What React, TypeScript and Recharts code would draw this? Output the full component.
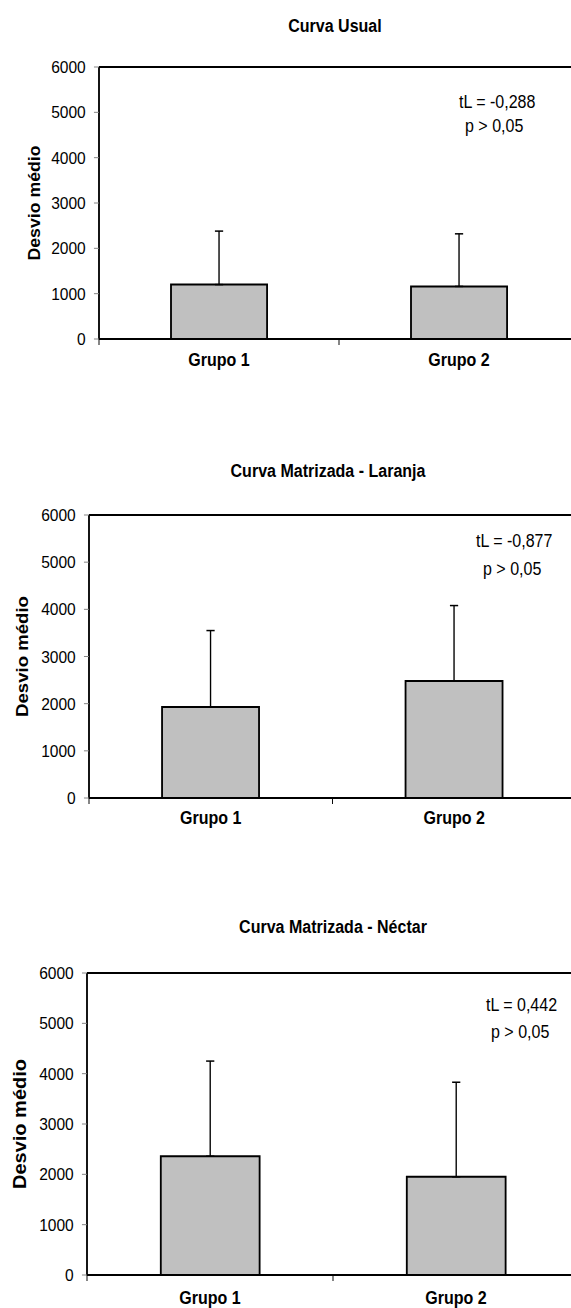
import React from 'react';
import { BarChart, Bar, XAxis, YAxis, ErrorBar, ReferenceLine, Label } from 'recharts';

// data
const categories = ['Grupo 1', 'Grupo 2'];
const yTicks = [0, 1000, 2000, 3000, 4000, 5000, 6000];

const usualMean = [1200, 1160];
const usualSd = [1180, 1160];
const laranjaMean = [1930, 2480];
const laranjaSd = [1620, 1600];
const nectarMean = [2360, 1950];
const nectarSd = [1890, 1880];

const titles = ['Curva Usual', 'Curva Matrizada - Laranja', 'Curva Matrizada - Néctar'];
const statTexts = [
    ['tL = -0,288', 'p > 0,05'],
    ['tL = -0,877', 'p > 0,05'],
    ['tL = 0,442', 'p > 0,05'],
];

const FONT = '"Liberation Sans", Arial, sans-serif';
// the source image is squeezed horizontally, so every panel is drawn wider and scaled down
const S = 0.915;
const CW = 640;

const buildRows = (means: number[], sds: number[]) =>
    categories.map((name, i) => ({ name, mean: means[i], err: [0, sds[i]] }));

const panels = [
    {
        rows: buildRows(usualMean, usualSd), top: 0, height: 390,
        plotL: 99, plotR: 579, plotT: 67, plotB: 339,
        titleX: 335, titleY: 26, yTitleX: 35, yTitleSize: 17.7, catY: 362,
        stat: [[459, 102], [465, 126]],
    },
    {
        rows: buildRows(laranjaMean, laranjaSd), top: 440, height: 410,
        plotL: 89, plotR: 576, plotT: 75, plotB: 358,
        titleX: 328, titleY: 31, yTitleX: 22, yTitleSize: 18.6, catY: 380,
        stat: [[476, 101], [483, 129]],
    },
    {
        rows: buildRows(nectarMean, nectarSd), top: 880, height: 428,
        plotL: 87, plotR: 579, plotT: 93, plotB: 395,
        titleX: 333, titleY: 47, yTitleX: 20, yTitleSize: 20, catY: 420,
        stat: [[486, 125], [491, 152]],
    },
];

const CatTick = (props: any) => {
    const { x, y, payload, index, gap, half, count } = props;
    const axisY = y - gap;
    return (
        <g>
            <line x1={x - half} x2={x - half} y1={axisY} y2={axisY + 6} stroke="#000" strokeWidth={1} />
            {index === count - 1 && (
                <line x1={x + half} x2={x + half} y1={axisY} y2={axisY + 6} stroke="#000" strokeWidth={1} />
            )}
            <text x={x} y={y} dy="0.71em" textAnchor="middle" fontWeight="bold" fontSize={17.5} fill="#000">
                {payload.value}
            </text>
        </g>
    );
};

const Panel = ({ p, idx }: any) => {
    const plotLeft = p.plotL / S;
    const plotRight = p.plotR / S;
    const half = (plotRight - plotLeft) / categories.length / 2;
    const gap = p.catY - p.plotB - 8;
    const lh = 20;
    return (
        <div
            style={{
                position: 'absolute', left: 0, top: p.top, width: CW, height: p.height,
                transform: `scaleX(${S})`, transformOrigin: '0 0',
            }}
        >
            <div
                style={{
                    position: 'absolute', left: p.titleX / S - 250, width: 500, top: p.titleY - lh / 2,
                    lineHeight: `${lh}px`, textAlign: 'center', fontWeight: 'bold', fontSize: 17.5, color: '#000',
                }}
            >
                {titles[idx]}
            </div>
            {statTexts[idx].map((t, i) => (
                <div
                    key={i}
                    style={{
                        position: 'absolute', left: p.stat[i][0] / S, top: p.stat[i][1] - lh / 2,
                        lineHeight: `${lh}px`, fontSize: 17.5, color: '#000', whiteSpace: 'pre',
                    }}
                >
                    {t}
                </div>
            ))}
            <BarChart
                width={CW}
                height={p.height}
                data={p.rows}
                margin={{ top: p.plotT, right: CW - plotRight, bottom: 0, left: 0 }}
                barCategoryGap="30%"
            >
                <XAxis
                    dataKey="name"
                    height={p.height - p.plotB}
                    axisLine={{ stroke: '#000', strokeWidth: 2 }}
                    tickLine={false}
                    tickSize={0}
                    tickMargin={gap}
                    interval={0}
                    tick={(tp: any) => <CatTick {...tp} gap={gap} half={half} count={categories.length} />}
                />
                <YAxis
                    width={plotLeft}
                    domain={[0, 6000]}
                    ticks={yTicks}
                    interval={0}
                    allowDataOverflow
                    axisLine={{ stroke: '#000', strokeWidth: 2 }}
                    tickLine={{ stroke: '#808080', strokeWidth: 1 }}
                    tickSize={5.5}
                    tickMargin={9}
                    tick={{ fill: '#000', fontSize: 17 }}
                >
                    <Label
                        content={(lp: any) => {
                            const vb = lp.viewBox || {};
                            const cx = p.yTitleX / S;
                            const cy = (vb.y ?? p.plotT) + (vb.height ?? p.plotB - p.plotT) / 2;
                            return (
                                <text
                                    x={cx} y={cy} transform={`rotate(-90 ${cx} ${cy})`}
                                    textAnchor="middle" dominantBaseline="central"
                                    fontWeight="bold" fontSize={p.yTitleSize} fill="#000"
                                >
                                    Desvio médio
                                </text>
                            );
                        }}
                    />
                </YAxis>
                <ReferenceLine y={6000} stroke="#000" strokeWidth={2} />
                <Bar dataKey="mean" fill="#c0c0c0" stroke="#000" strokeWidth={2} isAnimationActive={false}>
                    <ErrorBar dataKey="err" direction="y" width={4.5} stroke="#000" strokeWidth={1.5} isAnimationActive={false} />
                </Bar>
            </BarChart>
        </div>
    );
};

export default function App() {
    return (
        <div
            style={{
                position: 'absolute', left: 0, top: 0, width: 571, height: 1308,
                overflow: 'hidden', background: '#fff', fontFamily: FONT,
            }}
        >
            {panels.map((p, i) => (
                <Panel key={i} p={p} idx={i} />
            ))}
        </div>
    );
}
